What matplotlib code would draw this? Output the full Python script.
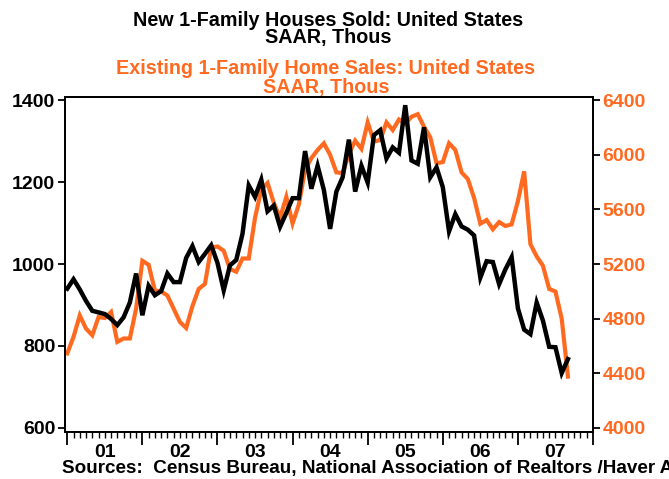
import matplotlib
matplotlib.use("Agg")
import matplotlib.pyplot as plt
import numpy as np
import pandas as pd
from matplotlib.ticker import FixedLocator, NullFormatter

plt.rcParams['font.family'] = ['Liberation Sans', 'DejaVu Sans']

# Monthly, Jan 2001 .. Sep 2007
months = pd.date_range('2001-01-01', periods=81, freq='MS')

new_home_sales = [
    940, 963, 938, 910, 886, 882, 878, 866, 851, 870, 906, 977,
    875, 947, 924, 934, 977, 956, 956, 1015, 1044, 1005, 1025, 1046,
    1003, 936, 997, 1010, 1074, 1192, 1164, 1206, 1129, 1143, 1091, 1125,
    1161, 1161, 1276, 1184, 1240, 1181, 1086, 1177, 1212, 1304, 1177, 1240,
    1199, 1315, 1327, 1258, 1285, 1272, 1388, 1253, 1245, 1334, 1212, 1236,
    1188, 1080, 1122, 1092, 1084, 1070, 967, 1007, 1005, 951, 987, 1017,
    892, 840, 829, 906, 862, 798, 797, 734, 768,
]

existing_home_sales = [
    4546, 4667, 4824, 4727, 4679, 4812, 4805, 4849, 4630, 4655, 4655, 4873,
    5224, 5195, 5006, 4999, 4970, 4873, 4776, 4732, 4892, 5018, 5055, 5321,
    5329, 5297, 5164, 5144, 5241, 5241, 5539, 5746, 5794, 5649, 5539, 5692,
    5498, 5636, 5891, 5976, 6036, 6085, 6000, 5872, 5867, 6007, 6104, 6044,
    6238, 6097, 6109, 6238, 6182, 6259, 6230, 6279, 6298, 6206, 6129, 5939,
    5947, 6085, 6036, 5872, 5823, 5685, 5496, 5523, 5455, 5508, 5479, 5491,
    5661, 5879, 5346, 5256, 5188, 5018, 4999, 4800, 4376,
]

year_labels = ['01', '02', '03', '04', '05', '06', '07']
left_ticks = [600, 800, 1000, 1200, 1400]
right_ticks = [4000, 4400, 4800, 5200, 5600, 6000, 6400]

title_new = 'New 1-Family Houses Sold: United States'
title_existing = 'Existing 1-Family Home Sales: United States'
units = 'SAAR, Thous'
source = 'Sources:  Census Bureau, National Association of Realtors /Haver A'

ORANGE = '#FF6A20'

x = months.year + (months.month - 1) / 12.0

fig = plt.figure(figsize=(6.69, 4.79), dpi=100)
ax = fig.add_axes([65 / 669, 47 / 479, 528 / 669, 335 / 479])
ax2 = ax.twinx()
ax.set_zorder(ax2.get_zorder() + 1)
ax.patch.set_visible(False)

ax2.plot(x, existing_home_sales, color=ORANGE, lw=3.0, solid_joinstyle='miter')
ax.plot(x, new_home_sales, color='black', lw=3.2, solid_joinstyle='miter')

ax.set_xlim(2000.97, 2008.0)
ax.set_ylim(590, 1408)
ax2.set_ylim(3970, 6424)

ax.yaxis.set_major_locator(FixedLocator(left_ticks))
ax2.yaxis.set_major_locator(FixedLocator(right_ticks))
ax.set_yticklabels([str(v) for v in left_ticks])
ax2.set_yticklabels([str(v) for v in right_ticks])

years = np.arange(2001, 2009)
ax.xaxis.set_major_locator(FixedLocator(years))
ax.xaxis.set_major_formatter(NullFormatter())
ax.xaxis.set_minor_locator(FixedLocator([y + m / 12 for y in range(2001, 2008) for m in range(1, 12)]))
ax.tick_params(axis='x', which='major', direction='out', length=9, width=1.3)
ax.tick_params(axis='x', which='minor', direction='out', length=4, width=1.0)
for yi, lab in zip(range(2001, 2008), year_labels):
    ax.text(yi + 0.5, -0.035, lab, transform=ax.get_xaxis_transform(),
            ha='center', va='top', fontsize=14, fontweight='bold')

ax.tick_params(axis='y', direction='out', length=5, width=1.3, labelsize=14, pad=2)
ax2.tick_params(axis='y', direction='out', length=5, width=1.3, labelsize=14,
                labelcolor=ORANGE, pad=2)
for lab in ax.get_yticklabels():
    lab.set_fontweight('bold')
for lab in ax2.get_yticklabels():
    lab.set_fontweight('bold')

for a in (ax, ax2):
    for s in a.spines.values():
        s.set_linewidth(1.3)

TS = 14.2
fig.text(328 / 669, 1 - 20 / 479, title_new, ha='center', va='center', fontsize=TS, fontweight='bold')
fig.text(328 / 669, 1 - 38 / 479, units, ha='center', va='center', fontsize=TS, fontweight='bold')
fig.text(326 / 669, 1 - 69 / 479, title_existing, ha='center', va='center', fontsize=TS,
         fontweight='bold', color=ORANGE)
fig.text(326 / 669, 1 - 87.5 / 479, units, ha='center', va='center', fontsize=TS,
         fontweight='bold', color=ORANGE)
fig.text(62 / 669, 1 - 468 / 479, source, ha='left', va='center', fontsize=13.6, fontweight='bold')

fig.savefig('out.png', dpi=100)
